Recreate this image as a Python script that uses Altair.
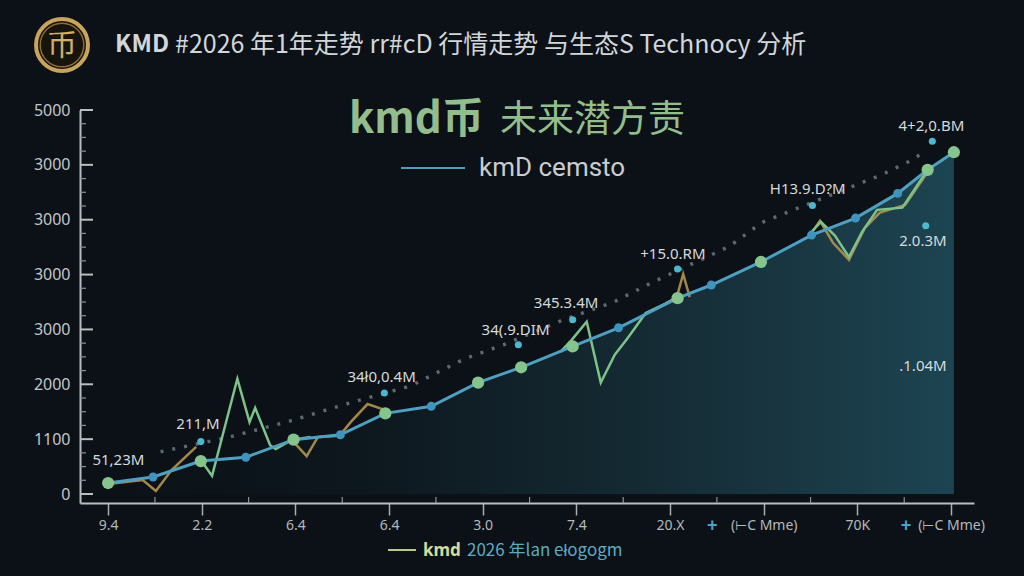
import altair as alt
import pandas as pd

# ---------------- data ----------------
x_labels = ["9.4", "2.2", "6.4", "6.4", "3.0", "7.4", "20.X", "(⊢C Mme)", "70K", "(⊢C Mme)"]
y_labels = ["0", "1100", "2000", "3000", "3000", "3000", "3000", "5000"]
y_tick_vals = [0, 1000, 2000, 3000, 4000, 5000, 6000, 7000]

# main trend line (x in tick-index units, y in axis units)
main_x = [0.00, 0.48, 0.99, 1.47, 1.98, 2.48, 2.96, 3.45, 3.95, 4.41, 4.96, 5.45, 6.08, 6.44, 6.97, 7.51, 7.98, 8.43, 8.75, 9.03]
main_y = [200, 310, 600, 670, 990, 1080, 1470, 1600, 2030, 2310, 2690, 3030, 3570, 3810, 4230, 4720, 5030, 5480, 5910, 6230]
main_kind = ["g", "b", "g", "b", "g", "b", "g", "b", "g", "g", "g", "b", "g", "b", "g", "b", "b", "b", "g", "g"]

# green jagged series (segments)
green_seg = ["A"] * 9 + ["B"] * 9 + ["C"] * 8
green_x = [0.99, 1.11, 1.38, 1.51, 1.57, 1.73, 1.79, 1.96, 2.16,
           4.83, 4.95, 5.11, 5.26, 5.41, 5.55, 5.74, 5.95, 6.07,
           7.49, 7.61, 7.76, 7.91, 8.05, 8.21, 8.48, 8.75]
green_y = [620, 330, 2100, 1310, 1570, 890, 820, 985, 1040,
           2590, 2810, 3140, 2030, 2540, 2850, 3300, 3470, 3580,
           4740, 4960, 4710, 4320, 4780, 5180, 5220, 5910]

# tan series (segments)
tan_seg = ["A"] * 5 + ["D"] * 7 + ["B"] * 4 + ["C"] * 9
tan_x = [0.00, 0.37, 0.51, 0.68, 0.94,
         1.96, 2.12, 2.24, 2.47, 2.59, 2.77, 2.96,
         5.95, 6.07, 6.14, 6.21,
         7.49, 7.60, 7.74, 7.91, 8.08, 8.24, 8.51, 8.65, 8.75]
tan_y = [180, 255, 55, 440, 860,
         985, 690, 1040, 1060, 1310, 1640, 1530,
         3470, 3580, 4010, 3590,
         4710, 4980, 4580, 4270, 4850, 5130, 5270, 5620, 5870]

# dotted forecast line
dot_x = [0.56, 1.30, 1.94, 2.58, 3.23, 3.80, 4.22, 4.86, 5.40, 5.80, 6.63, 6.98, 8.26, 8.55, 8.72]
dot_y = [770, 1040, 1330, 1660, 1970, 2460, 2720, 3175, 3500, 3850, 4510, 4950, 5820, 6060, 6240]

# teal marker dots and their labels
mark_x = [0.99, 2.95, 4.38, 4.96, 6.08, 7.52, 8.80, 8.73]
mark_y = [955, 1840, 2720, 3175, 4100, 5260, 6430, 4890]

ann_text = ["51,23M", "211,M", "34ł0,0.4M", "34(.9.DIM", "345.3.4M", "+15.0.RM", "H13.9.D?M", "4+2,0.BM", "2.0.3M", ".1.04M"]
ann_x = [0.11, 0.96, 2.92, 4.35, 4.89, 6.03, 7.47, 8.79, 8.70, 8.70]
ann_y = [620, 1280, 2135, 2990, 3490, 4380, 5566, 6700, 4620, 2340]

plus_x = [6.45, 8.52]

# ---------------- chart ----------------
W, H = 894, 393
XD = [-0.3, 9.245]
YD = [-164, 7000]
BG = "#0b1117"
FONT = "Noto Sans, sans-serif"
CJK = "Noto Sans CJK SC, sans-serif"

xs = alt.Scale(domain=XD, nice=False, zero=False)
ys = alt.Scale(domain=YD, nice=False, zero=False)

x_expr = "[" + ",".join("'" + s + "'" for s in x_labels) + "][round(datum.value)]"
y_expr = "[" + ",".join("'" + s + "'" for s in y_labels) + "][round(datum.value/1000)]"

main_df = pd.DataFrame({"x": main_x, "y": main_y, "k": main_kind})
green_df = pd.DataFrame({"x": green_x, "y": green_y, "s": green_seg})
tan_df = pd.DataFrame({"x": tan_x, "y": tan_y, "s": tan_seg})
dot_df = pd.DataFrame({"x": dot_x, "y": dot_y})
mark_df = pd.DataFrame({"x": mark_x, "y": mark_y})
ann_df = pd.DataFrame({"x": ann_x, "y": ann_y, "t": ann_text})
plus_df = pd.DataFrame({"x": plus_x, "t": ["+"] * len(plus_x)})
ytick_df = pd.DataFrame({"y": y_tick_vals})
yminor_df = pd.DataFrame({"y": [v for v in range(250, 7000, 250) if v % 1000 != 0]})
xminor_df = pd.DataFrame({"x": [k + 0.5 for k in range(9)]})

X = alt.X("x:Q", scale=xs, axis=alt.Axis(values=list(range(len(x_labels))), labelExpr=x_expr, title=None,
                                         grid=False, tickSize=12, tickWidth=1.5, tickColor="#a9aeb1",
                                         domainColor="#b9bdbf", domainWidth=2, labelColor="#b4b9bb",
                                         labelFontSize=14, labelFont=FONT, labelPadding=3))
Y = alt.Y("y:Q", scale=ys, axis=alt.Axis(values=y_tick_vals, labelExpr=y_expr, title=None, grid=False,
                                         ticks=False, domainColor="#b9bdbf", domainWidth=2,
                                         labelColor="#c2c6c8", labelFontSize=16, labelFont=FONT,
                                         labelPadding=10))

grad = alt.Gradient(gradient="linear", x1=0, x2=1, y1=0, y2=0,
                    stops=[alt.GradientStop(color="rgba(40,95,110,0)", offset=0),
                           alt.GradientStop(color="rgba(40,95,110,0.08)", offset=0.3),
                           alt.GradientStop(color="rgba(40,95,110,0.3)", offset=0.6),
                           alt.GradientStop(color="rgba(40,100,118,0.62)", offset=1)])

area = alt.Chart(main_df).mark_area(fill=grad, interpolate="linear").encode(
    x=X, y=Y, y2=alt.value(H))

dotted = alt.Chart(dot_df).mark_line(color="#5d6870", strokeWidth=3.5, strokeDash=[3, 9]).encode(
    x=alt.X("x:Q", scale=xs), y=alt.Y("y:Q", scale=ys))

tan = alt.Chart(tan_df).mark_line(color="#b4954e", strokeWidth=2.5, opacity=0.9).encode(
    x=alt.X("x:Q", scale=xs), y=alt.Y("y:Q", scale=ys), detail="s:N")

green = alt.Chart(green_df).mark_line(color="#7cc28a", strokeWidth=2.5).encode(
    x=alt.X("x:Q", scale=xs), y=alt.Y("y:Q", scale=ys), detail="s:N")

mline = alt.Chart(main_df).mark_line(color="#4f9fc0", strokeWidth=3).encode(
    x=alt.X("x:Q", scale=xs), y=alt.Y("y:Q", scale=ys))

mpts = alt.Chart(main_df).mark_circle(opacity=1).encode(
    x=alt.X("x:Q", scale=xs), y=alt.Y("y:Q", scale=ys),
    color=alt.Color("k:N", scale=alt.Scale(domain=["g", "b"], range=["#86c48e", "#3f93bf"]), legend=None),
    size=alt.Size("k:N", scale=alt.Scale(domain=["g", "b"], range=[150, 80]), legend=None))

tdots = alt.Chart(mark_df).mark_circle(color="#4fb6cc", size=50, opacity=1).encode(
    x=alt.X("x:Q", scale=xs), y=alt.Y("y:Q", scale=ys))

ann = alt.Chart(ann_df).mark_text(color="#d6dadb", fontSize=15, font=FONT).encode(
    x=alt.X("x:Q", scale=xs), y=alt.Y("y:Q", scale=ys), text="t:N")

ymaj = alt.Chart(ytick_df).mark_rule(color="#b9bdbf", strokeWidth=2).encode(
    y=alt.Y("y:Q", scale=ys), x=alt.value(0), x2=alt.value(13))
ymin = alt.Chart(yminor_df).mark_rule(color="#8d9396", strokeWidth=1.2).encode(
    y=alt.Y("y:Q", scale=ys), x=alt.value(0), x2=alt.value(6))
xmin = alt.Chart(xminor_df).mark_rule(color="#8d9396", strokeWidth=1.2).encode(
    x=alt.X("x:Q", scale=xs), y=alt.value(H - 6), y2=alt.value(H))

plus = alt.Chart(plus_df).mark_text(color="#4aa3cc", fontSize=18, fontWeight="bold").encode(
    x=alt.X("x:Q", scale=xs), y=alt.value(H + 23), text="t:N")


def txt(t, x, y, size, color, weight="normal", font=CJK, align="left"):
    return alt.Chart(pd.DataFrame({"t": [t]})).mark_text(
        align=align, baseline="middle", fontSize=size, color=color, fontWeight=weight, font=font
    ).encode(x=alt.value(x), y=alt.value(y), text="t:N")


OX, OY = 80, 110  # plot origin in page pixels

coin_ring = alt.Chart(pd.DataFrame({"a": [0]})).mark_point(
    shape="circle", size=2700, filled=True, fill="#17140e", stroke="#c9a45c", strokeWidth=4, opacity=1
).encode(x=alt.value(62 - OX), y=alt.value(45 - OY))
coin_inner = alt.Chart(pd.DataFrame({"a": [0]})).mark_point(
    shape="circle", size=1900, filled=False, stroke="#8a6c36", strokeWidth=1.5, opacity=1
).encode(x=alt.value(62 - OX), y=alt.value(45 - OY))

title1 = txt("KMD", 115 - OX, 45 - OY, 24, "#d2d6d8", "bold")
title2 = txt("#2026 年1年走势 rr#cD 行情走势 与生态S Technocy 分析", 175 - OX, 45 - OY, 25, "#d2d6d8", "normal")
coin_txt = txt("币", 62 - OX, 46 - OY, 30, "#d3ae66", "normal", CJK, "center")
sub1 = txt("kmd币", 349 - OX, 120 - OY, 42, "#93bd8c", "bold")
sub2 = txt("未来潜方责", 500 - OX, 121 - OY, 37, "#93bd8c", "normal")
leg_line = alt.Chart(pd.DataFrame({"a": [0]})).mark_rule(color="#4f9fc0", strokeWidth=2).encode(
    x=alt.value(401 - OX), x2=alt.value(465 - OX), y=alt.value(168 - OY))
leg_txt = txt("kmD cemsto", 479 - OX, 168 - OY, 26, "#c9cdce", "normal", "Roboto, sans-serif")

bl_line = alt.Chart(pd.DataFrame({"a": [0]})).mark_rule(color="#b9c98f", strokeWidth=2).encode(
    x=alt.value(388 - OX), x2=alt.value(416 - OX), y=alt.value(550 - OY))
bl_1 = txt("kmd", 423 - OX, 551 - OY, 17, "#d4dc9c", "bold", FONT)
bl_2 = txt("2026 年lan ełogogm", 467 - OX, 551 - OY, 17, "#5eaac2", "normal", CJK)

chart = alt.layer(
    area, dotted, tan, green, mline, mpts, tdots, ann, ymaj, ymin, xmin, plus,
    coin_ring, coin_inner, coin_txt, title1, title2, sub1, sub2, leg_line, leg_txt, bl_line, bl_1, bl_2
).properties(
    width=W, height=H, background=BG,
    padding={"left": OX, "top": OY, "right": 1024 - OX - W, "bottom": 576 - OY - H},
    autosize=alt.AutoSizeParams(type="none")
).configure_view(stroke=None)

chart.save("out.html", embed_options={"renderer": "svg", "actions": False})
